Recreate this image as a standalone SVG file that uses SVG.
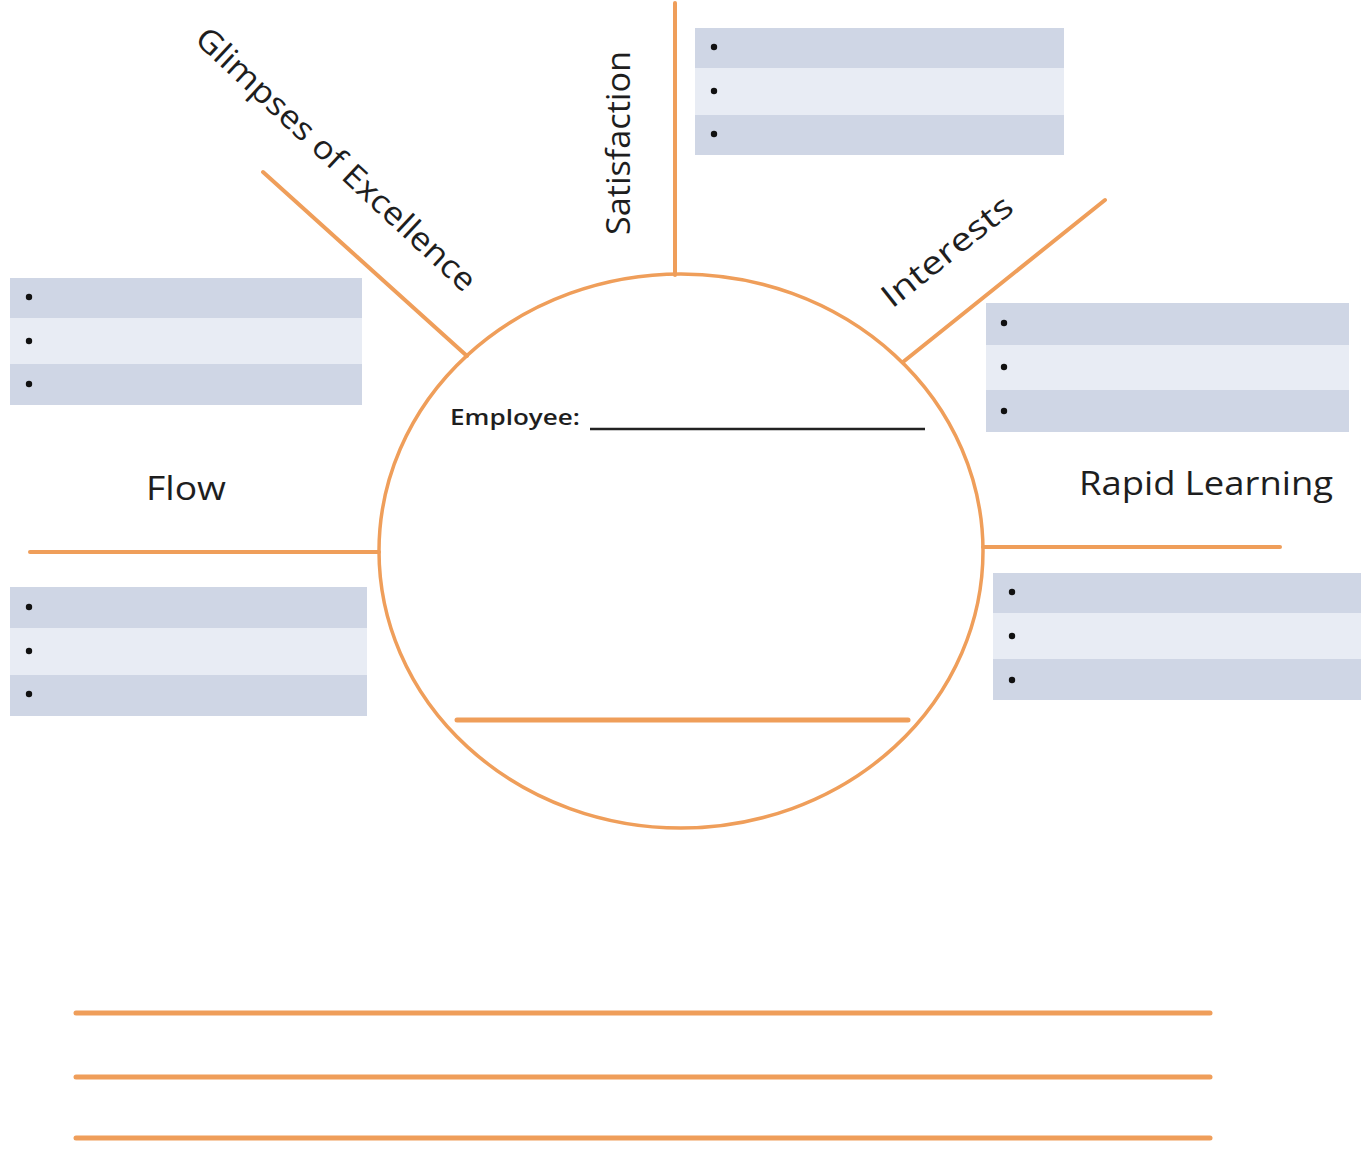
<svg xmlns="http://www.w3.org/2000/svg" width="1363" height="1151" viewBox="0 0 1363 1151">
<style>
.spoke{stroke:#EF9E5A;stroke-width:4;stroke-linecap:round;fill:none}
.rule{stroke:#EF9E5A;stroke-width:5;stroke-linecap:round;fill:none}
.ring{stroke:#EF9E5A;stroke-width:3.5;fill:none}
.dk{fill:#CFD6E5}
.lt{fill:#E8ECF4}
.dot{fill:#111}
.lbl{font-family:"Open Sans","Liberation Sans",sans-serif;font-size:32px;fill:#1e1e1e}
.emp{font-family:"Open Sans","Liberation Sans",sans-serif;font-size:21px;font-weight:600;fill:#1e1e1e}
</style>
<rect width="1363" height="1151" fill="#fff"/>
<g id="connectors">
<line class="spoke" x1="675" y1="3" x2="675" y2="275"/>
<line class="spoke" x1="263" y1="172" x2="467" y2="356"/>
<line class="spoke" x1="1105" y1="200" x2="903" y2="362"/>
<line class="spoke" x1="30" y1="552" x2="379" y2="552"/>
<line class="spoke" x1="983" y1="547" x2="1280" y2="547"/>
</g>
<g id="center">
<ellipse class="ring" cx="681" cy="551" rx="302" ry="277"/>
<text class="emp" x="450" y="425" textLength="130" lengthAdjust="spacingAndGlyphs">Employee:</text>
<line x1="590" y1="429" x2="925" y2="429" stroke="#222" stroke-width="2.5"/>
<line class="rule" x1="457" y1="720" x2="908" y2="720"/>
</g>
<g id="glimpses">
<text class="lbl" transform="translate(337,158) rotate(43)" text-anchor="middle" dominant-baseline="central" textLength="370" lengthAdjust="spacingAndGlyphs">Glimpses of Excellence</text>
<rect class="dk" x="10" y="278" width="352" height="40"/>
<rect class="lt" x="10" y="318" width="352" height="46"/>
<rect class="dk" x="10" y="364" width="352" height="41"/>
<circle class="dot" cx="29" cy="297" r="3.2"/>
<circle class="dot" cx="29" cy="341" r="3.2"/>
<circle class="dot" cx="29" cy="384" r="3.2"/>
</g>
<g id="satisfaction">
<text class="lbl" transform="translate(617,143) rotate(-90)" text-anchor="middle" dominant-baseline="central" textLength="184" lengthAdjust="spacingAndGlyphs">Satisfaction</text>
<rect class="dk" x="695" y="28" width="369" height="40"/>
<rect class="lt" x="695" y="68" width="369" height="47"/>
<rect class="dk" x="695" y="115" width="369" height="40"/>
<circle class="dot" cx="714" cy="47" r="3.2"/>
<circle class="dot" cx="714" cy="91" r="3.2"/>
<circle class="dot" cx="714" cy="134" r="3.2"/>
</g>
<g id="interests">
<text class="lbl" transform="translate(946,250) rotate(-38.5)" text-anchor="middle" dominant-baseline="central" textLength="158" lengthAdjust="spacingAndGlyphs">Interests</text>
<rect class="dk" x="986" y="303" width="363" height="42"/>
<rect class="lt" x="986" y="345" width="363" height="45"/>
<rect class="dk" x="986" y="390" width="363" height="42"/>
<circle class="dot" cx="1004" cy="323" r="3.2"/>
<circle class="dot" cx="1004" cy="367" r="3.2"/>
<circle class="dot" cx="1004" cy="411" r="3.2"/>
</g>
<g id="flow">
<text class="lbl" x="146" y="500" textLength="80" lengthAdjust="spacingAndGlyphs">Flow</text>
<rect class="dk" x="10" y="587" width="357" height="41"/>
<rect class="lt" x="10" y="628" width="357" height="47"/>
<rect class="dk" x="10" y="675" width="357" height="41"/>
<circle class="dot" cx="29" cy="607" r="3.2"/>
<circle class="dot" cx="29" cy="651" r="3.2"/>
<circle class="dot" cx="29" cy="694" r="3.2"/>
</g>
<g id="rapid-learning">
<text class="lbl" x="1079" y="495" textLength="254" lengthAdjust="spacingAndGlyphs">Rapid Learning</text>
<rect class="dk" x="993" y="573" width="368" height="40"/>
<rect class="lt" x="993" y="613" width="368" height="46"/>
<rect class="dk" x="993" y="659" width="368" height="41"/>
<circle class="dot" cx="1012" cy="592" r="3.2"/>
<circle class="dot" cx="1012" cy="636" r="3.2"/>
<circle class="dot" cx="1012" cy="680" r="3.2"/>
</g>
<g id="notes">
<line class="rule" x1="76" y1="1013" x2="1210" y2="1013"/>
<line class="rule" x1="76" y1="1077" x2="1210" y2="1077"/>
<line class="rule" x1="76" y1="1138" x2="1210" y2="1138"/>
</g>
</svg>
